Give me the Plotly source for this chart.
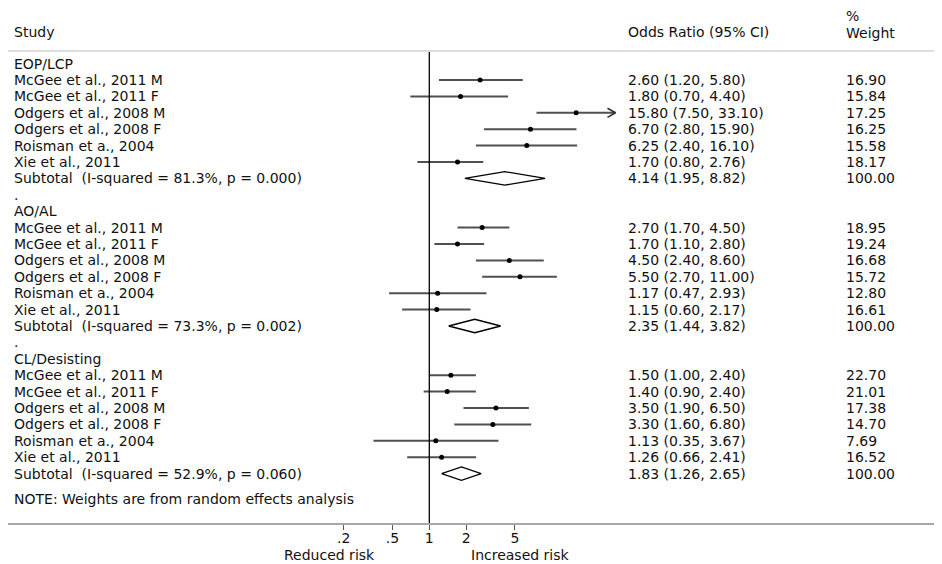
import plotly.graph_objects as go

# ---------------- data ----------------
groups = ["EOP/LCP", "AO/AL", "CL/Desisting"]
studies = ["McGee et al., 2011 M", "McGee et al., 2011 F", "Odgers et al., 2008 M",
           "Odgers et al., 2008 F", "Roisman et a., 2004", "Xie et al., 2011"]

eop_or = [2.60, 1.80, 15.80, 6.70, 6.25, 1.70]
eop_lo = [1.20, 0.70, 7.50, 2.80, 2.40, 0.80]
eop_hi = [5.80, 4.40, 33.10, 15.90, 16.10, 2.76]
eop_w = [16.90, 15.84, 17.25, 16.25, 15.58, 18.17]

ao_or = [2.70, 1.70, 4.50, 5.50, 1.17, 1.15]
ao_lo = [1.70, 1.10, 2.40, 2.70, 0.47, 0.60]
ao_hi = [4.50, 2.80, 8.60, 11.00, 2.93, 2.17]
ao_w = [18.95, 19.24, 16.68, 15.72, 12.80, 16.61]

cl_or = [1.50, 1.40, 3.50, 3.30, 1.13, 1.26]
cl_lo = [1.00, 0.90, 1.90, 1.60, 0.35, 0.66]
cl_hi = [2.40, 2.40, 6.50, 6.80, 3.67, 2.41]
cl_w = [22.70, 21.01, 17.38, 14.70, 7.69, 16.52]

sub_or = [4.14, 2.35, 1.83]
sub_lo = [1.95, 1.44, 1.26]
sub_hi = [8.82, 3.82, 2.65]
sub_i2 = [81.3, 73.3, 52.9]
sub_p = [0.000, 0.002, 0.060]

arrow_cap = 30.0  # CIs beyond this get an arrow head

tick_vals = [0.2, 0.5, 1, 2, 5]
tick_text = [".2", ".5", "1", "2", "5"]

# ---------------- layout helpers ----------------
OFF = 8                      # page body margin
W, H = 942 - OFF, 564 - OFF  # figure size
ROW0, ROWH = 63.6, 16.4
PX_PER_DEC = 122.5
X_ONE = 429.3
FONT = "DejaVu Sans"
FS = 14
TXT = "#111111"


def prow(py):
    """reference screen pixel y -> row units"""
    return (py - ROW0) / ROWH


def pxx(px):
    """reference screen pixel x -> paper fraction"""
    return (px - OFF) / W


def pyy(py):
    """reference screen pixel y -> paper fraction"""
    return 1 - (py - OFF) / H


fig = go.Figure()
ann = []


def text(px, row, s, anchor="left", size=FS):
    ann.append(dict(x=pxx(px), xref="paper", y=row, yref="y", text=s,
                    showarrow=False, xanchor=anchor, yanchor="middle",
                    borderpad=0,
                    font=dict(family=FONT, size=size, color=TXT)))


group_data = [(eop_or, eop_lo, eop_hi, eop_w), (ao_or, ao_lo, ao_hi, ao_w),
              (cl_or, cl_lo, cl_hi, cl_w)]

# headers
text(13, prow(32), "Study")
text(627, prow(32), "Odds Ratio (95% CI)")
text(845, prow(16.3), "%")
text(845, prow(32.6), "Weight")

NB = "\u00a0"
for k, g in enumerate(groups):
    base = k * 9
    text(13, base, g)
    ors, los, his, ws = group_data[k]
    for i, s in enumerate(studies):
        r = base + 1 + i
        text(13, r, s)
        text(627, r, f"{ors[i]:.2f} ({los[i]:.2f}, {his[i]:.2f})")
        text(845, r, f"{ws[i]:.2f}")
        hi = his[i]
        fig.add_trace(go.Scatter(x=[los[i], hi], y=[r, r], mode="lines",
                                 line=dict(color="#505050", width=2),
                                 hoverinfo="skip", showlegend=False))
        if hi > arrow_cap:
            f = 10 ** (8 / PX_PER_DEC)
            fig.add_trace(go.Scatter(x=[hi / f, hi, hi / f], y=[r - 0.28, r, r + 0.28],
                                     mode="lines", line=dict(color="#303030", width=1.6),
                                     hoverinfo="skip", showlegend=False))
        fig.add_trace(go.Scatter(x=[ors[i]], y=[r], mode="markers",
                                 marker=dict(color="black", size=5, symbol="circle"),
                                 hoverinfo="skip", showlegend=False))
    rs = base + 7
    text(13, rs, f"Subtotal{NB}{NB}(I-squared = {sub_i2[k]:.1f}%, p = {sub_p[k]:.3f})")
    text(627, rs, f"{sub_or[k]:.2f} ({sub_lo[k]:.2f}, {sub_hi[k]:.2f})")
    text(845, rs, "100.00")
    d = 0.41
    fig.add_trace(go.Scatter(x=[sub_lo[k], sub_or[k], sub_hi[k], sub_or[k], sub_lo[k]],
                             y=[rs, rs - d, rs, rs + d, rs], mode="lines",
                             fill="toself", fillcolor="white",
                             line=dict(color="black", width=1.3),
                             hoverinfo="skip", showlegend=False))
    if k < 2:
        text(13, base + 8, ".")

text(13, prow(499), "NOTE: Weights are from random effects analysis")

# null line at OR = 1
fig.add_trace(go.Scatter(x=[1, 1], y=[prow(51.7), prow(524)], mode="lines",
                         line=dict(color="black", width=1.3),
                         hoverinfo="skip", showlegend=False))

# axis titles
for px, s in [(329, "Reduced risk"), (520, "Increased risk")]:
    ann.append(dict(x=pxx(px), xref="paper", y=pyy(555), yref="paper", text=s,
                    showarrow=False, xanchor="center", yanchor="middle", borderpad=0,
                    font=dict(family=FONT, size=FS, color=TXT)))

shapes = [dict(type="line", xref="paper", yref="y", x0=pxx(4), x1=1,
               y0=prow(51), y1=prow(51), line=dict(color="#dcdcdc", width=2))]

xmin = (OFF - X_ONE) / PX_PER_DEC
xmax = (942 - X_ONE) / PX_PER_DEC

fig.update_layout(
    width=W, height=H, margin=dict(l=0, r=0, t=0, b=0),
    paper_bgcolor="white", plot_bgcolor="white",
    annotations=ann, shapes=shapes,
    xaxis=dict(type="log", range=[xmin, xmax], domain=[0, 1], anchor="free",
               position=pyy(524), showline=True, linecolor="#a8a8a8", linewidth=2,
               ticks="outside", ticklen=5, tickwidth=1.2, tickcolor="#555555",
               ticklabelstandoff=-4,
               tickvals=tick_vals, ticktext=tick_text, showgrid=False, zeroline=False,
               tickfont=dict(family=FONT, size=FS, color=TXT), fixedrange=True),
    yaxis=dict(range=[prow(564), prow(OFF)], domain=[0, 1], visible=False,
               showgrid=False, zeroline=False, fixedrange=True),
    font=dict(family=FONT, size=FS, color=TXT),
)

fig.write_html("out.html")
